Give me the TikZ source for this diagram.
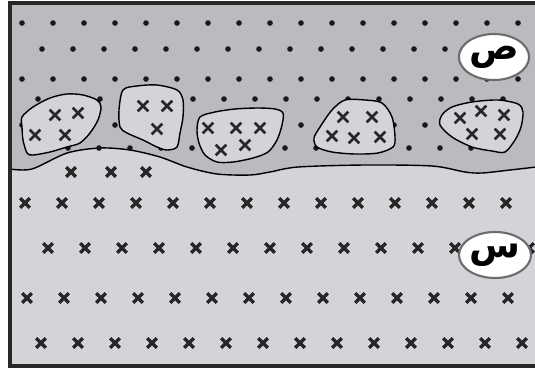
\documentclass[tikz,border=0pt]{standalone}
\usepackage{fontspec}
\usepackage{tikz}
\usetikzlibrary{shapes.geometric}
\TeXXeTstate=1
\newfontfamily\arabicfont[Script=Arabic]{DejaVu Sans}
\definecolor{UpperGray}{RGB}{186,187,191}
\definecolor{LowerGray}{RGB}{211,212,215}
\definecolor{FrameBlack}{RGB}{40,40,40}
\tikzset{
  dotrow/.style={fill=black!90},
  xline/.style={line width=1.9pt, black!85},
  bxline/.style={line width=1.6pt, black!85},
  blob/.style={draw=black, fill=LowerGray, line width=0.8pt},
  border/.style={draw=black, line width=0.8pt},
  lab/.style={ellipse, draw=gray!85!black, fill=white, line width=1.2pt, inner sep=0pt,
    minimum width=1.24cm, minimum height=0.92cm, font=\arabicfont\bfseries\fontsize{21}{21}\selectfont},
  frame/.style={draw=FrameBlack, line width=2pt},
  crs/.pic={\draw[xline] (-4.8,-4.8) -- (4.8,4.8) (-4.8,4.8) -- (4.8,-4.8);},
  bcrs/.pic={\draw[bxline] (-5.3,-5.3) -- (5.3,5.3) (-5.3,5.3) -- (5.3,-5.3);},
}
\begin{document}
\begin{tikzpicture}[x=0.02cm, y=-0.02cm]
  \useasboundingbox (0,0) rectangle (535,369);
  % upper layer
  \fill[UpperGray] (10,3) rectangle (545,366);
  % lower layer with wavy top
  \fill[LowerGray] plot[smooth] coordinates {(10,169) (32,169) (67,153) (100,148) (130,150)
    (160,157) (187,167) (217,174) (250,175) (270,172) (298,167) (365,165) (432,166)
    (465,172) (482,173) (510,170) (545,166)} -- (545,366) -- (10,366) -- cycle;
  \draw[border] plot[smooth] coordinates {(10,169) (32,169) (67,153) (100,148) (130,150)
    (160,157) (187,167) (217,174) (250,175) (270,172) (298,167) (365,165) (432,166)
    (465,172) (482,173) (510,170) (545,166)};
  % dots
  \foreach \k in {0,...,16} {
    \fill[dotrow] (22+31*\k,23) circle[radius=1.6pt];
    \fill[dotrow] (22+31*\k,79) circle[radius=1.6pt];
    \fill[dotrow] (22+31*\k,125) circle[radius=1.6pt];
  }
  \foreach \k in {0,...,13}
    \fill[dotrow] (42+31*\k,49) circle[radius=1.6pt];
  \foreach \k in {0,...,15} {
    \fill[dotrow] (38+31*\k,99) circle[radius=1.6pt];
    \fill[dotrow] (37+31*\k,148) circle[radius=1.6pt];
  }
  % crosses below
  \foreach \k in {0,...,13} {
    \pic at (25+37*\k,203) {crs};
    \pic at (48+37*\k,248) {crs};
    \pic at (27+37*\k,298) {crs};
    \pic at (41+37*\k,343) {crs};
  }
  \foreach \xx in {71,111,146}
    \pic at (\xx,172) {crs};
  % blobs
  \draw[blob] plot[smooth cycle] coordinates {(22,117) (33,107) (50,98) (67,94) (83,95)
    (97,100) (101,107) (98,120) (90,133) (80,143) (67,147) (50,152) (33,155) (27,153)
    (23,140) (22,127)};
  \foreach \p in {(55,115),(78,113),(35,135),(65,135)}
    \pic at \p {bcrs};
  \draw[blob] plot[smooth cycle] coordinates {(123,90) (137,86) (157,85) (177,90) (183,100)
    (183,117) (180,133) (177,147) (167,150) (157,147) (143,140) (127,133) (120,127)
    (119,110)};
  \foreach \p in {(143,106),(167,106),(157,129)}
    \pic at \p {bcrs};
  \draw[blob] plot[smooth cycle] coordinates {(200,117) (215,112) (235,109) (258,108)
    (275,109) (283,113) (282,125) (277,140) (268,152) (253,158) (233,162) (217,162)
    (205,155) (199,143) (197,130)};
  \foreach \p in {(208,128),(236,128),(260,128),(221,150),(245,145)}
    \pic at \p {bcrs};
  \draw[blob] plot[smooth cycle] coordinates {(345,100) (365,100) (382,103) (392,117)
    (395,137) (393,147) (378,153) (355,154) (332,152) (317,147) (314,138) (320,127)
    (332,110)};
  \foreach \p in {(343,117),(372,117),(332,136),(354,138),(380,137)}
    \pic at \p {bcrs};
  \draw[blob] plot[smooth cycle] coordinates {(442,115) (452,107) (472,102) (498,100)
    (518,104) (523,112) (521,127) (515,140) (505,152) (492,151) (472,147) (452,137)
    (440,125)};
  \foreach \p in {(460,118),(481,111),(504,115),(472,134),(500,134)}
    \pic at \p {bcrs};
  % labels
  \node[lab] (sad) at (494,57) {\beginR ص\endR};
  \node[lab] (sin) at (495,255) {\beginR س\endR};
  % frame
  \draw[frame] (10,3) rectangle (545,366);
\end{tikzpicture}
\end{document}
